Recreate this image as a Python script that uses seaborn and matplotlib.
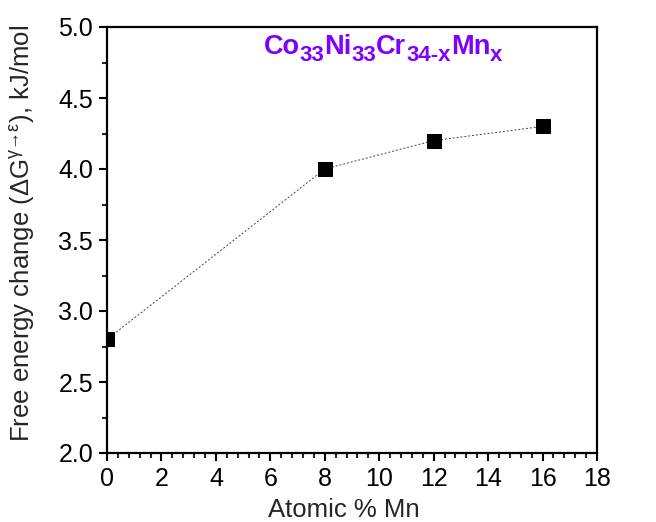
import matplotlib
matplotlib.use("Agg")
import matplotlib.pyplot as plt
from matplotlib.ticker import MultipleLocator
import seaborn as sns
import pandas as pd

mn_content = [0, 8, 12, 16]
free_energy = [2.8, 4.0, 4.2, 4.3]

# alloy formula: (text, is_subscript)
formula_parts = [("Co", False), ("33", True), ("Ni", False), ("33", True),
                 ("Cr", False), ("34-x", True), ("Mn", False), ("x", True)]

sns.set_theme(style="ticks")
plt.rcParams["font.family"] = ["Liberation Sans", "DejaVu Sans"]
plt.rcParams["mathtext.fontset"] = "custom"
plt.rcParams["mathtext.rm"] = "Liberation Sans"
plt.rcParams["mathtext.it"] = "Liberation Sans:italic"
plt.rcParams["mathtext.bf"] = "Liberation Sans:bold"
plt.rcParams["mathtext.sf"] = "Liberation Sans"

df = pd.DataFrame({"mn": mn_content, "dg": free_energy})

W, H = 656, 522
fig = plt.figure(figsize=(W / 100, H / 100), dpi=100)
ax = fig.add_axes([107 / W, 1 - 453 / H, 490 / W, 426 / H])

sns.lineplot(data=df, x="mn", y="dg", ax=ax, color="#444444", linestyle=(0, (2, 2)),
             linewidth=0.7, marker="s", markersize=10, markerfacecolor="black",
             markeredgecolor="black")

ax.set_xlim(0, 18)
ax.set_ylim(2.0, 5.0)
ax.xaxis.set_major_locator(MultipleLocator(2))
ax.xaxis.set_minor_locator(MultipleLocator(0.4))
ax.yaxis.set_major_locator(MultipleLocator(0.5))
ax.yaxis.set_minor_locator(MultipleLocator(0.25))
ax.tick_params(which="major", direction="out", length=6, width=1.5, labelsize=18,
               colors="black", pad=4)
ax.tick_params(which="minor", direction="out", length=3.5, width=1.5)
for sp in ax.spines.values():
    sp.set_linewidth(1.6)
    sp.set_color("black")

ax.set_xlabel("Atomic % Mn", fontsize=18.5, labelpad=5)
ax.set_ylabel("Free energy change ($\\Delta$G$^{\\mathrm{γ→ε}}$), kJ/mol",
              fontsize=18.5, labelpad=15)
ax.xaxis.label.set_x(0.484)
ax.yaxis.label.set_y(0.516)

# formula label: bold text with large, lowered subscripts, laid out piece by piece
renderer = fig.canvas.get_renderer()
main_size, sub_size, sub_drop = 19.5, 16, 7
baseline_px = 54
center_px = 383
texts = []
widths = []
for txt, sub in formula_parts:
    t = fig.text(0, 0, txt, fontsize=sub_size if sub else main_size, fontweight="bold",
                 color="#7f00ff", va="baseline", ha="left")
    texts.append((t, sub))
    widths.append(t.get_window_extent(renderer).width)
x_px = center_px - sum(widths) / 2
for (t, sub), w in zip(texts, widths):
    y_px = baseline_px + (sub_drop if sub else 0)
    t.set_position((x_px / W, 1 - y_px / H))
    x_px += w

fig.savefig("out.png", dpi=100)
